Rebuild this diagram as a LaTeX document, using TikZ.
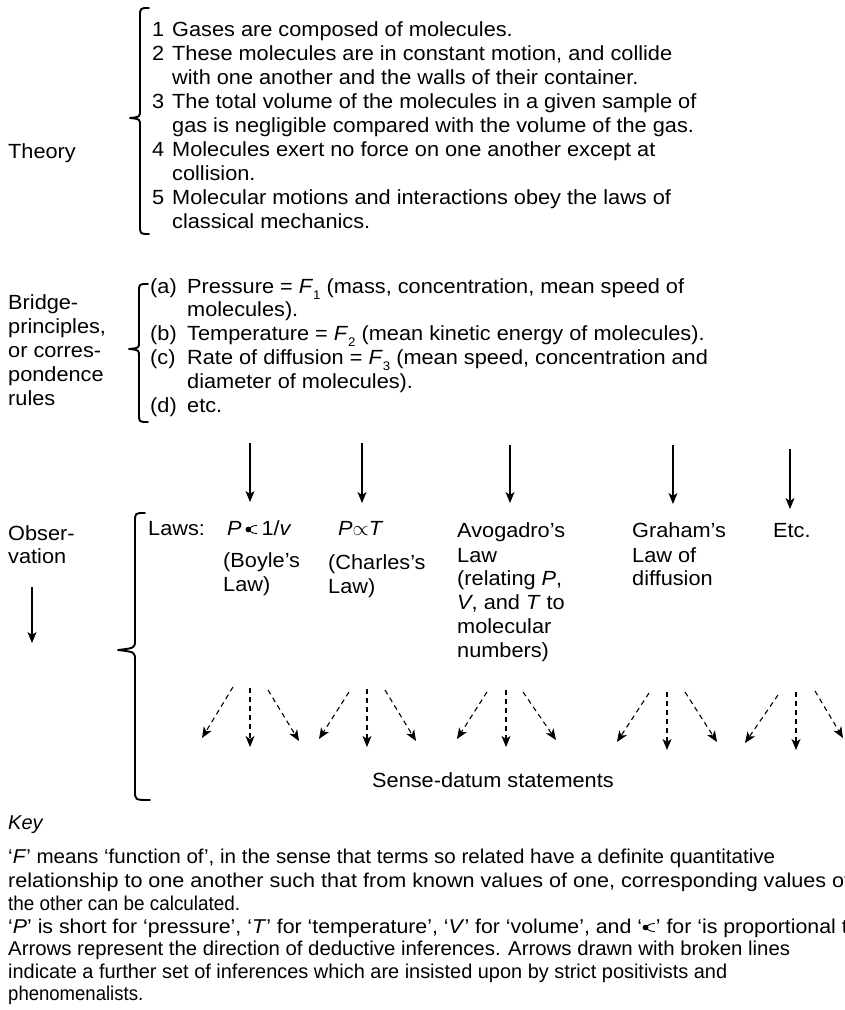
\documentclass[tikz,border=0pt]{standalone}
\usepackage{fontspec}
\usepackage{graphicx}
\setmainfont{Liberation Sans}[FakeStretch=1.06]
\newfontfamily\keyfont{Liberation Sans}
\usetikzlibrary{arrows.meta}
\newcommand{\mainsize}{\fontsize{20.5}{24}\selectfont}
\newcommand{\keysize}{\keyfont\fontsize{20}{23}\selectfont}
\newcommand{\Fsub}[1]{\textit{F}\raisebox{-0.3em}{\fontsize{12.5}{12.5}\selectfont #1}}
\newcommand{\fprop}{\tikz[baseline=0pt,x=1pt,y=1pt]{\path (0,0) (13,0);\fill (3.2,5.5) circle (2.8pt);\draw[line width=0.9pt] (3.2,5.5) .. controls (7,9) .. (12,9.6);\draw[line width=0.9pt] (3.2,5.5) .. controls (7,2) .. (12,1.4);}}
\newcommand{\kline}[2]{\resizebox{#1}{\height}{#2}}
\begin{document}
\begin{tikzpicture}[x=1pt,y=-1pt,
  txt/.style={anchor=base west, inner sep=0pt, font=\mainsize},
  ktxt/.style={anchor=base west, inner sep=0pt, font=\keysize},
  brc/.style={line width=1.9pt, line cap=round, line join=round},
  sarr/.style={line width=1.1pt, -{Stealth[length=11pt,width=9pt,inset=3pt]}},
  darr/.style={line width=1.1pt, dash pattern=on 5pt off 4pt, -{Stealth[length=11pt,width=9pt,inset=3pt]}}]
\useasboundingbox (0,0) rectangle (845,1010);
\fill[white] (0,0) rectangle (845,1010);

% ---------- Theory ----------
\node[txt] (theory) at (8,158) {Theory};
\draw[brc] (149,8) .. controls (140,8) .. (140,17) -- (140,110) .. controls (140,117) .. (130,118) .. controls (140,119) .. (140,126) -- (140,225) .. controls (140,234) .. (149,234);
\node[txt] (n1) at (152,36) {1};
\node[txt] (t1) at (172,36) {Gases are composed of molecules.};
\node[txt] (n2) at (152,60) {2};
\node[txt] (t2a) at (172,60) {These molecules are in constant motion, and collide};
\node[txt] (t2b) at (172,84) {with one another and the walls of their container.};
\node[txt] (n3) at (152,108) {3};
\node[txt] (t3a) at (172,108) {The total volume of the molecules in a given sample of};
\node[txt] (t3b) at (172,132) {gas is negligible compared with the volume of the gas.};
\node[txt] (n4) at (152,156) {4};
\node[txt] (t4a) at (172,156) {Molecules exert no force on one another except at};
\node[txt] (t4b) at (172,180) {collision.};
\node[txt] (n5) at (152,204) {5};
\node[txt] (t5a) at (172,204) {Molecular motions and interactions obey the laws of};
\node[txt] (t5b) at (172,228) {classical mechanics.};

% ---------- Bridge principles ----------
\node[txt] (b1) at (8,309) {Bridge-};
\node[txt] (b2) at (8,333) {principles,};
\node[txt] (b3) at (8,357) {or corres-};
\node[txt] (b4) at (8,381) {pondence};
\node[txt] (b5) at (8,405) {rules};
\draw[brc] (148,284) .. controls (139,284) .. (139,292) -- (139,342) .. controls (139,348) .. (129,349) .. controls (139,350) .. (139,356) -- (139,414) .. controls (139,422) .. (148,422);
\node[txt] (la) at (150,293) {(a)};
\node[txt] (ra1) at (187,293) {Pressure = \Fsub{1} (mass, concentration, mean speed of};
\node[txt] (ra2) at (187,316) {molecules).};
\node[txt] (lb) at (150,340) {(b)};
\node[txt] (rb) at (187,340) {Temperature = \Fsub{2} (mean kinetic energy of molecules).};
\node[txt] (lc) at (150,364) {(c)};
\node[txt] (rc1) at (187,364) {Rate of diffusion = \Fsub{3} (mean speed, concentration and};
\node[txt] (rc2) at (187,388) {diameter of molecules).};
\node[txt] (ld) at (150,412) {(d)};
\node[txt] (rd) at (187,412) {etc.};

% ---------- solid arrows ----------
\foreach \i/\xa/\ya/\yb in {1/250/443/502, 2/362/443/503, 3/510/445/503, 4/673/445/504, 5/790/449/509}{
  \coordinate (as\i) at (\xa,\ya);
  \coordinate (ae\i) at (\xa,\yb);
  \draw[sarr] (as\i) -- (ae\i);
}

% ---------- Observation ----------
\node[txt] (o1) at (8,540) {Obser-};
\node[txt] (o2) at (8,563) {vation};
\coordinate (os) at (32,587);
\coordinate (oe) at (32,643);
\draw[sarr] (os) -- (oe);
\draw[brc] (145,513) .. controls (135,513) .. (135,522) -- (135,640) .. controls (135,648) .. (118,650) .. controls (135,652) .. (135,660) -- (135,791) .. controls (135,800) .. (150,800);

\node[txt] (laws) at (148,535) {Laws:};
\node[txt] (boyle) at (227,535) {\textit{P}\,\fprop\,1/\textit{v}};
\node[txt] (charles) at (338,535) {\textit{P}$\propto$\textit{T}};
\node[txt] (boyleA) at (223,567) {(Boyle’s};
\node[txt] (boyleB) at (223,591) {Law)};
\node[txt] (charA) at (328,569) {(Charles’s};
\node[txt] (charB) at (328,593) {Law)};
\node[txt] (av1) at (457,537) {Avogadro’s};
\node[txt] (av2) at (457,562) {Law};
\node[txt] (av3) at (457,585) {(relating \textit{P},};
\node[txt] (av4) at (457,609) {\textit{V}, and \textit{T} to};
\node[txt] (av5) at (457,633) {molecular};
\node[txt] (av6) at (457,657) {numbers)};
\node[txt] (gr1) at (632,537) {Graham’s};
\node[txt] (gr2) at (632,562) {Law of};
\node[txt] (gr3) at (632,585) {diffusion};
\node[txt] (etc) at (773,537) {Etc.};

% ---------- dashed arrows ----------
\foreach \i/\xa/\ya/\xb/\yb in {
  1/233/687/202/738, 2/250/688/250/747, 3/268/690/299/741,
  4/349/692/319/739, 5/367/689/367/747, 6/385/690/416/741,
  7/487/692/457/739, 8/506/690/506/747, 9/523/692/556/740,
  10/649/693/617/742, 11/667/692/667/750, 12/685/692/717/742,
  13/778/695/745/743, 14/796/692/796/750, 15/815/691/843/738}{
  \coordinate (ds\i) at (\xa,\ya);
  \coordinate (de\i) at (\xb,\yb);
  \draw[darr] (ds\i) -- (de\i);
}
\node[txt] (sense) at (372,787) {Sense-datum statements};

% ---------- Key ----------
\node[ktxt] (key) at (8,829) {\textit{Key}};
\node[ktxt] (k1) at (8,863) {\kline{767pt}{‘\textit{F}’ means ‘function of’, in the sense that terms so related have a definite quantitative}};
\node[ktxt] (k2) at (8,887) {\kline{842pt}{relationship to one another such that from known values of one, corresponding values of}};
\node[ktxt] (k3) at (8,910) {\kline{232pt}{the other can be calculated.}};
\node[ktxt] (k4) at (8,933) {\kline{862pt}{‘\textit{P}’ is short for ‘pressure’, ‘\textit{T}’ for ‘temperature’, ‘\textit{V}’ for ‘volume’, and ‘\fprop’ for ‘is proportional to’.}};
\node[ktxt] (k5) at (8,955) {\kline{782pt}{Arrows represent the direction of deductive inferences. Arrows drawn with broken lines}};
\node[ktxt] (k6) at (8,978) {\kline{719pt}{indicate a further set of inferences which are insisted upon by strict positivists and}};
\node[ktxt] (k7) at (8,1000) {\kline{135pt}{phenomenalists.}};
\end{tikzpicture}
\end{document}
